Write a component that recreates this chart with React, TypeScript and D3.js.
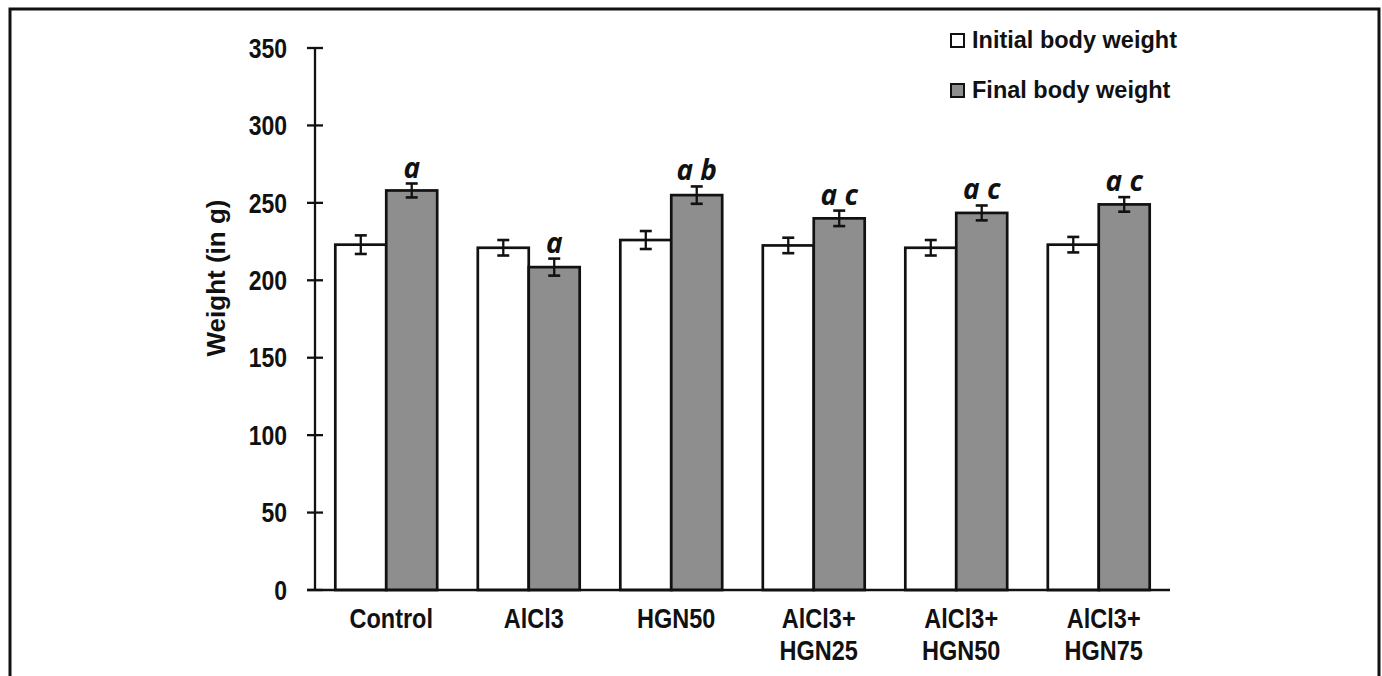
import React from "react";
import * as d3 from "d3";

const categories = ["Control", "AlCl3", "HGN50", "AlCl3+\nHGN25", "AlCl3+\nHGN50", "AlCl3+\nHGN75"];
const initialWeight = [223, 221, 226, 222.5, 221, 223];
const initialErr = [6, 5, 5.8, 5, 5, 5];
const finalWeight = [258, 208.5, 255, 240, 243.5, 249];
const finalErr = [4.5, 5.5, 5.6, 5, 4.8, 4.7];
const significance = ["a", "a", "a b", "a c", "a c", "a c"];
const yTicks = [0, 50, 100, 150, 200, 250, 300, 350];
const seriesNames = ["Initial body weight", "Final body weight"];

const W = 1382;
const H = 676;
const GREY = "#8e8e8e";
const STRETCH = 1.17;

export default function App() {
  const x = d3.scaleBand<string>().domain(categories).range([315, 1170]).paddingInner(0.285).paddingOuter(0.1425);
  const y = d3.scaleLinear().domain([0, 350]).range([590, 48]);
  const bw = x.bandwidth() / 2;
  const fontBold = "'Liberation Sans', Arial, sans-serif";

  const bars: React.ReactNode[] = [];
  categories.forEach((c, i) => {
    const x0 = x(c)!;
    const series = [
      { v: initialWeight[i], e: initialErr[i], fill: "#ffffff", xs: x0 },
      { v: finalWeight[i], e: finalErr[i], fill: GREY, xs: x0 + bw },
    ];
    series.forEach((s, j) => {
      const cx = s.xs + bw / 2;
      bars.push(
        <g key={`${i}-${j}`}>
          <rect x={s.xs} y={y(s.v)} width={bw} height={y(0) - y(s.v)} fill={s.fill} stroke="#111" strokeWidth={2.7} />
          <line x1={cx} x2={cx} y1={y(s.v + s.e)} y2={y(s.v - s.e)} stroke="#111" strokeWidth={2.3} />
          <line x1={cx - 6} x2={cx + 6} y1={y(s.v + s.e)} y2={y(s.v + s.e)} stroke="#111" strokeWidth={2.6} />
          <line x1={cx - 6} x2={cx + 6} y1={y(s.v - s.e)} y2={y(s.v - s.e)} stroke="#111" strokeWidth={2.6} />
        </g>
      );
    });
    const gx = x0 + bw * 1.5;
    bars.push(
      <text
        key={`sig-${i}`}
        x={gx}
        y={y(finalWeight[i] + finalErr[i]) - 6}
        textAnchor="middle"
        fontFamily="'Open Sans', 'DejaVu Sans', sans-serif"
        fontStyle="italic"
        fontWeight={700}
        fontSize={28}
        fill="#111"
        style={{ whiteSpace: "pre" }}
      >
        {significance[i].replace(" ", "\u00a0")}
      </text>
    );
  });

  return (
    <svg width={W} height={H} style={{ position: "absolute", left: 0, top: 0, background: "#fff" }}>
      <rect x={0} y={0} width={W} height={H} fill="#fff" />
      <path d={`M10,${H + 5} L10,9 L1379,9 L1379,${H + 5}`} fill="none" stroke="#111" strokeWidth={3} />

      {/* y axis */}
      <line x1={315} x2={315} y1={y(350)} y2={y(0)} stroke="#111" strokeWidth={2.3} />
      {yTicks.map((t) => (
        <g key={t}>
          <line x1={307} x2={323} y1={y(t)} y2={y(t)} stroke="#111" strokeWidth={2.3} />
          <text
            transform={`translate(287,${y(t)}) scale(1,${STRETCH})`}
            dy="0.36em"
            textAnchor="end"
            fontFamily={fontBold}
            fontWeight={700}
            fontSize={23}
            fill="#111"
          >
            {t}
          </text>
        </g>
      ))}
      <text
        transform="translate(225,278) rotate(-90)"
        textAnchor="middle"
        fontFamily={fontBold}
        fontWeight={700}
        fontSize={26}
        fill="#111"
      >
        Weight (in g)
      </text>

      {bars}

      {/* x axis */}
      <line x1={307} x2={1170} y1={y(0)} y2={y(0)} stroke="#111" strokeWidth={2.7} />
      {categories.map((c) => {
        const lines = c.split("\n");
        const cx = x(c)! + x.bandwidth() / 2 + 5;
        return (
          <g key={c}>
            {lines.map((l, k) => (
              <text
                key={k}
                transform={`translate(${cx},${628 + k * 32}) scale(1,${STRETCH})`}
                textAnchor="middle"
                fontFamily={fontBold}
                fontWeight={700}
                fontSize={23.5}
                fill="#111"
              >
                {l}
              </text>
            ))}
          </g>
        );
      })}

      {/* legend */}
      {seriesNames.map((n, i) => (
        <g key={n}>
          <rect x={951} y={34 + i * 50} width={13} height={13} fill={i === 0 ? "#fff" : GREY} stroke="#111" strokeWidth={2} />
          <text x={972} y={48 + i * 50} fontFamily={fontBold} fontWeight={700} fontSize={23.5} fill="#111">
            {n}
          </text>
        </g>
      ))}
    </svg>
  );
}
